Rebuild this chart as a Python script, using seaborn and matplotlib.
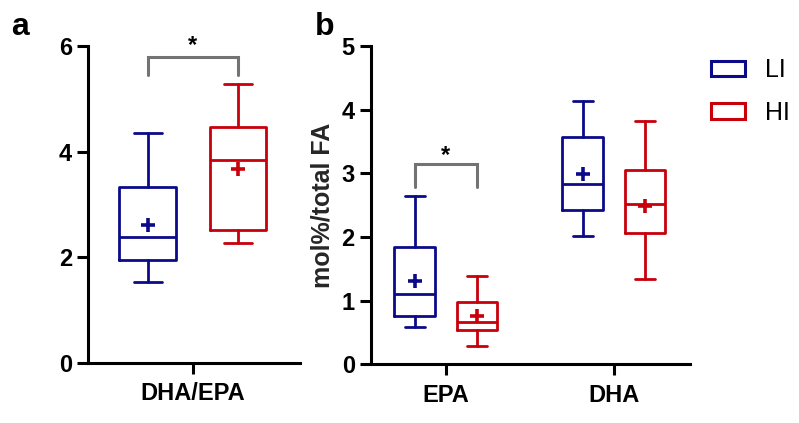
import numpy as np
import matplotlib
matplotlib.use("Agg")
import matplotlib.pyplot as plt
import seaborn as sns
from matplotlib.patches import Patch

# box summaries: low whisker, Q1, median, Q3, high whisker, mean
groups = ["LI", "HI"]
ratio_labels = ["DHA/EPA"]
ratio_li = [1.54, 1.94, 2.39, 3.33, 4.36, 2.61]
ratio_hi = [2.28, 2.52, 3.84, 4.46, 5.29, 3.67]

fa_labels = ["EPA", "DHA"]
epa_li = [0.59, 0.76, 1.11, 1.84, 2.65, 1.31]
epa_hi = [0.29, 0.54, 0.66, 0.97, 1.38, 0.76]
dha_li = [2.01, 2.42, 2.84, 3.57, 4.14, 2.99]
dha_hi = [1.34, 2.06, 2.52, 3.05, 3.82, 2.49]

COL = {"LI": "#0b0b8a", "HI": "#c8000b"}
GREY = "#737373"

sns.set_style("ticks")
plt.rcParams["font.family"] = ["Liberation Sans", "DejaVu Sans"]
plt.rcParams["text.color"] = "black"


def _stats(v):
    lo, q1, med, q3, hi, mean = v
    return dict(whislo=lo, q1=q1, med=med, q3=q3, whishi=hi, mean=mean, fliers=[])


def _boxes(ax, series, pos, width, col):
    lw = 2.0
    ax.bxp([_stats(v) for v in series], positions=pos, widths=width,
           capwidths=width / 2, showmeans=True, showfliers=False,
           boxprops=dict(color=col, linewidth=lw),
           medianprops=dict(color=col, linewidth=lw),
           whiskerprops=dict(color=col, linewidth=lw),
           capprops=dict(color=col, linewidth=lw),
           meanprops=dict(marker="+", markeredgecolor=col, markersize=10,
                          markeredgewidth=2.6),
           manage_ticks=False)


def _axes_style(ax):
    sns.despine(ax=ax)
    for s in ("left", "bottom"):
        ax.spines[s].set_linewidth(2.2)
        ax.spines[s].set_color("black")
    ax.tick_params(width=2.2, length=8, labelsize=17, colors="black")
    ax.tick_params(axis="x", pad=6)
    for t in ax.get_xticklabels() + ax.get_yticklabels():
        t.set_fontweight("bold")


def _bracket(ax, x0, x1, top, end, star_y):
    ax.plot([x0, x0, x1, x1], [end, top, top, end], color=GREY,
            linewidth=2.2, clip_on=False, solid_joinstyle="miter")
    ax.text((x0 + x1) / 2, star_y, "*", ha="center", va="center",
            fontsize=17, fontweight="bold", color="black", clip_on=False)


fig = plt.figure(figsize=(7.99, 4.23), dpi=100, facecolor="white")

# panel a
ax_a = fig.add_axes([0.110, 0.142, 0.266, 0.749])
off_a, w_a = 0.215, 0.27
_boxes(ax_a, [ratio_li], [0 - off_a], w_a, COL["LI"])
_boxes(ax_a, [ratio_hi], [0 + off_a], w_a, COL["HI"])
ax_a.set_xlim(-0.5, 0.513)
ax_a.set_ylim(0, 6)
ax_a.set_yticks([0, 2, 4, 6])
ax_a.set_xticks(range(len(ratio_labels)))
ax_a.set_xticklabels(ratio_labels)
_axes_style(ax_a)
_bracket(ax_a, -off_a, off_a, 5.8, 5.45, 6.02)

# panel b
ax_b = fig.add_axes([0.464, 0.139, 0.400, 0.752])
off_b, w_b = 0.185, 0.24
xs = np.arange(len(fa_labels))
_boxes(ax_b, [epa_li, dha_li], xs - off_b, w_b, COL["LI"])
_boxes(ax_b, [epa_hi, dha_hi], xs + off_b, w_b, COL["HI"])
ax_b.set_xlim(-0.446, 1.456)
ax_b.set_ylim(0, 5)
ax_b.set_yticks(range(6))
ax_b.set_xticks(xs)
ax_b.set_xticklabels(fa_labels)
ax_b.set_ylabel("mol%/total FA", fontsize=18, fontweight="bold", labelpad=5)
_axes_style(ax_b)
_bracket(ax_b, -off_b, off_b, 3.14, 2.78, 3.28)

fig.text(0.014, 0.935, "a", fontsize=23, fontweight="bold", va="center")
fig.text(0.394, 0.935, "b", fontsize=23, fontweight="bold", va="center")

handles = [Patch(facecolor="white", edgecolor=COL[g], linewidth=2.2, label=g)
           for g in groups]
fig.legend(handles=handles, loc="upper left", bbox_to_anchor=(0.890, 0.862),
           frameon=False, fontsize=18, handlelength=1.36, handleheight=0.6,
           handletextpad=0.8, labelspacing=0.75, borderpad=0, borderaxespad=0)

fig.savefig("out.png", dpi=100, facecolor="white")
plt.close(fig)
